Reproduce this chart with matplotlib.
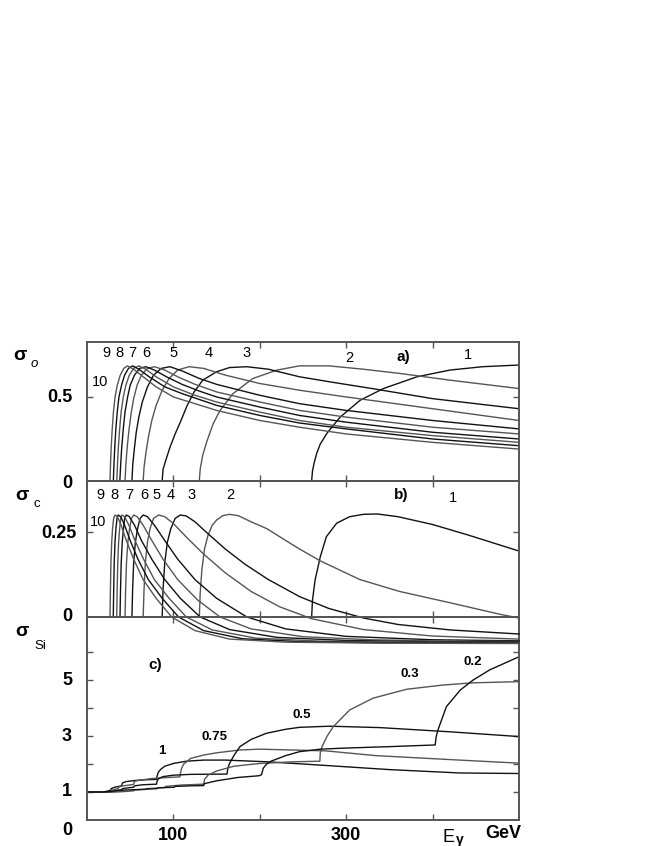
import matplotlib
matplotlib.use("Agg")
import matplotlib.pyplot as plt

plt.rcParams['font.family'] = ['Liberation Sans', 'DejaVu Sans']

# ---- panel a: sigma_o for harmonics 1..10 (E_gamma in GeV) ----
a_x = {
    1: [260, 261, 263, 266, 270, 278, 293, 316, 343, 382, 420, 458, 500],
    2: [130, 131, 134, 139, 146, 154, 169, 192, 220, 246, 280, 320, 362, 420, 500],
    3: [87, 88, 91, 96, 102, 108, 116, 124, 134, 150, 165, 185, 210, 246, 281, 330, 400, 500],
    4: [65, 66, 68, 71, 75, 80, 87, 95, 105, 118, 135, 160, 200, 246, 300, 400, 500],
    5: [52, 53, 55, 57, 60, 64, 70, 77, 86, 96, 110, 130, 150, 200, 246, 300, 400, 500],
    6: [44, 45, 46.5, 48.5, 51, 54, 58, 63, 70, 78, 90, 105, 125, 150, 200, 246, 300, 400, 500],
    7: [38, 39, 40.2, 42, 44, 47, 50, 55, 61, 68, 78, 92, 110, 130, 150, 200, 246, 300, 400, 500],
    8: [34.5, 35.3, 36.3, 37.8, 39.5, 42, 45, 49, 54, 60, 68, 80, 100, 125, 150, 200, 246, 300, 400, 500],
    9: [30.5, 31.2, 32.1, 33.4, 35, 37, 40, 43.5, 48, 53, 60, 72, 90, 110, 150, 200, 246, 300, 400, 500],
    10: [26.6, 27.2, 28, 29.2, 30.6, 32.5, 35, 38.5, 42.5, 47, 54, 65, 80, 100, 150, 200, 246, 300, 400, 500],
}
a_y = {
    1: [0, 0.06, 0.11, 0.167, 0.22, 0.286, 0.38, 0.48, 0.55, 0.62, 0.66, 0.68, 0.69],
    2: [0, 0.07, 0.155, 0.24, 0.34, 0.42, 0.52, 0.61, 0.66, 0.685, 0.685, 0.665, 0.64, 0.6, 0.55],
    3: [0, 0.07, 0.12, 0.2, 0.28, 0.35, 0.45, 0.53, 0.6, 0.65, 0.675, 0.68, 0.665, 0.62, 0.59, 0.55, 0.49, 0.43],
    4: [0, 0.08, 0.16, 0.26, 0.36, 0.45, 0.54, 0.61, 0.66, 0.68, 0.67, 0.63, 0.58, 0.54, 0.5, 0.43, 0.36],
    5: [0, 0.1, 0.2, 0.29, 0.38, 0.47, 0.56, 0.63, 0.67, 0.68, 0.655, 0.61, 0.575, 0.51, 0.46, 0.42, 0.36, 0.31],
    6: [0, 0.1, 0.2, 0.3, 0.4, 0.49, 0.57, 0.63, 0.67, 0.68, 0.66, 0.62, 0.575, 0.53, 0.47, 0.42, 0.38, 0.32, 0.28],
    7: [0, 0.1, 0.2, 0.31, 0.41, 0.5, 0.57, 0.63, 0.67, 0.68, 0.66, 0.62, 0.575, 0.535, 0.5, 0.44, 0.39, 0.35, 0.29, 0.25],
    8: [0, 0.1, 0.2, 0.31, 0.41, 0.5, 0.57, 0.63, 0.67, 0.685, 0.665, 0.62, 0.56, 0.51, 0.47, 0.41, 0.36, 0.32, 0.27, 0.23],
    9: [0, 0.1, 0.2, 0.31, 0.41, 0.5, 0.57, 0.63, 0.67, 0.685, 0.665, 0.62, 0.56, 0.52, 0.45, 0.39, 0.345, 0.31, 0.25, 0.21],
    10: [0, 0.1, 0.2, 0.31, 0.41, 0.5, 0.57, 0.63, 0.67, 0.685, 0.665, 0.62, 0.56, 0.5, 0.42, 0.36, 0.32, 0.28, 0.23, 0.19],
}

# ---- panel b: sigma_c ----
b_x = {
    1: [260, 261, 264, 270, 277, 289, 304, 320, 336, 360, 400, 440, 470, 500],
    2: [130, 131, 133, 136, 140, 145, 150, 157, 165, 175, 190, 208, 230, 246, 270, 316, 362, 420, 478, 500],
    3: [87, 88, 90, 93, 97, 102, 108, 115, 125, 140, 160, 183, 210, 246, 280, 320, 360, 420, 500],
    4: [65, 66, 67.5, 70, 73, 77, 83, 90, 100, 115, 135, 160, 190, 223, 260, 320, 400, 500],
    5: [52, 52.8, 54, 56, 58.5, 61.5, 65, 70, 78, 90, 105, 125, 150, 185, 230, 300, 400, 500],
    6: [44, 44.7, 45.7, 47.3, 49.3, 51.5, 54, 58, 65, 75, 88, 105, 128, 154, 190, 250, 330, 420, 500],
    7: [38.2, 38.8, 39.6, 40.8, 42.2, 43.6, 45.5, 49, 55, 63, 75, 90, 108, 131, 165, 220, 300, 400, 500],
    8: [34.4, 34.9, 35.6, 36.6, 37.8, 39, 40.5, 43.5, 48.5, 55.5, 65.5, 78, 95, 115, 145, 195, 270, 380, 500],
    9: [30.4, 30.9, 31.5, 32.4, 33.5, 34.7, 36, 39, 43.5, 50, 59, 71, 87, 106, 135, 180, 250, 360, 500],
    10: [26.6, 27.1, 27.7, 28.6, 29.6, 30.8, 32.4, 35.2, 39.5, 45.5, 54, 65, 80, 98, 125, 165, 230, 340, 500],
}
b_y = {
    1: [0, 0.05, 0.109, 0.177, 0.236, 0.276, 0.295, 0.302, 0.303, 0.295, 0.272, 0.242, 0.218, 0.194],
    2: [0, 0.07, 0.14, 0.2, 0.24, 0.27, 0.285, 0.298, 0.302, 0.298, 0.28, 0.26, 0.225, 0.2, 0.165, 0.11, 0.075, 0.042, 0.008, -0.003],
    3: [0, 0.08, 0.16, 0.22, 0.26, 0.29, 0.3, 0.297, 0.28, 0.245, 0.2, 0.155, 0.11, 0.06, 0.025, -0.003, -0.022, -0.038, -0.05],
    4: [0, 0.08, 0.16, 0.22, 0.26, 0.29, 0.3, 0.295, 0.275, 0.235, 0.185, 0.13, 0.075, 0.03, -0.005, -0.037, -0.056, -0.065],
    5: [0, 0.08, 0.16, 0.22, 0.26, 0.29, 0.3, 0.295, 0.27, 0.225, 0.17, 0.11, 0.055, 0, -0.035, -0.057, -0.067, -0.07],
    6: [0, 0.08, 0.16, 0.22, 0.26, 0.29, 0.3, 0.295, 0.27, 0.225, 0.17, 0.11, 0.05, 0, -0.035, -0.058, -0.067, -0.071, -0.072],
    7: [0, 0.08, 0.16, 0.22, 0.26, 0.29, 0.3, 0.295, 0.27, 0.225, 0.17, 0.11, 0.055, 0, -0.037, -0.06, -0.069, -0.073, -0.074],
    8: [0, 0.08, 0.16, 0.22, 0.26, 0.29, 0.3, 0.295, 0.27, 0.225, 0.17, 0.11, 0.055, 0, -0.038, -0.062, -0.071, -0.074, -0.076],
    9: [0, 0.08, 0.16, 0.22, 0.26, 0.29, 0.3, 0.295, 0.27, 0.225, 0.17, 0.11, 0.055, 0, -0.04, -0.064, -0.073, -0.076, -0.077],
    10: [0, 0.08, 0.16, 0.22, 0.26, 0.29, 0.3, 0.295, 0.27, 0.225, 0.17, 0.11, 0.055, 0, -0.04, -0.065, -0.074, -0.077, -0.078],
}

# ---- panel c: sigma_Si for several parameter values ----
c_x = {
    "1": [0, 18, 22, 27, 28, 32, 40, 41, 45, 55, 70, 80.5, 81, 82.5, 85, 90, 100, 115, 135, 160, 208, 250, 300, 350, 431, 500],
    "0.75": [0, 18, 24, 27, 28, 33, 36, 37, 42, 54, 55, 60, 75, 95, 107.5, 108, 109.5, 112, 120, 135, 150, 177, 200, 237, 276, 334, 431, 500],
    "0.5": [0, 18, 27, 32, 33, 40, 41, 48, 54, 55, 65, 80.5, 81, 83, 88, 100, 120, 162, 163, 165, 170, 177, 190, 208, 230, 246, 281, 339, 420, 500],
    "0.3": [0, 18, 34, 45, 54, 55, 67.5, 68.5, 80, 90, 91, 110, 135, 136, 140, 150, 170, 200, 240, 269.5, 270, 272, 278, 285, 304, 331, 370, 412, 447, 500],
    "0.2": [0, 18, 44, 68, 81, 82, 101, 102, 120, 135, 136, 150, 175, 199, 202, 204, 208, 213, 230, 246, 270, 300, 350, 403, 404, 406, 416, 432, 447, 466, 500],
}
c_y = {
    "1": [1, 1, 1.02, 1.06, 1.12, 1.17, 1.22, 1.32, 1.37, 1.41, 1.44, 1.45, 1.55, 1.7, 1.8, 1.92, 2.02, 2.1, 2.14, 2.14, 2.08, 2.0, 1.9, 1.8, 1.68, 1.66],
    "0.75": [1, 1, 1.01, 1.03, 1.06, 1.1, 1.12, 1.18, 1.22, 1.27, 1.38, 1.42, 1.48, 1.52, 1.54, 1.65, 1.85, 2.0, 2.2, 2.32, 2.4, 2.5, 2.53, 2.5, 2.47, 2.3, 2.14, 2.03],
    "0.5": [1, 1, 1.0, 1.02, 1.05, 1.08, 1.12, 1.15, 1.17, 1.22, 1.26, 1.28, 1.38, 1.48, 1.55, 1.6, 1.63, 1.64, 1.85, 2.02, 2.3, 2.62, 2.88, 3.1, 3.24, 3.31, 3.35, 3.3, 3.15, 2.98],
    "0.3": [1, 1, 1.0, 1.02, 1.04, 1.07, 1.09, 1.12, 1.14, 1.16, 1.2, 1.25, 1.28, 1.45, 1.6, 1.75, 1.92, 2.02, 2.08, 2.1, 2.4, 2.62, 3.0, 3.33, 3.93, 4.35, 4.67, 4.82, 4.9, 4.94],
    "0.2": [1, 1, 1.07, 1.1, 1.12, 1.15, 1.17, 1.2, 1.22, 1.23, 1.3, 1.4, 1.52, 1.58, 1.62, 1.85, 2.0, 2.1, 2.3, 2.44, 2.53, 2.57, 2.62, 2.68, 2.95, 3.2, 4.05, 4.64, 5.0, 5.36, 5.83],
}

# label positions (data coords)
a_lab = {"9": 23, "8": 38, "7": 53, "6": 69, "5": 100, "4": 141, "3": 185}
b_lab = {"9": 15, "8": 32, "7": 49, "6": 66, "5": 81, "4": 97, "3": 121, "2": 166}
c_lab = {"0.2": (447, 5.65), "0.3": (374, 5.2), "0.5": (249, 3.75), "0.75": (148, 2.95), "1": (87, 2.45)}

SPINE = "#555555"
cols = ["#111111", "#555555"]

fig = plt.figure(figsize=(6.54, 8.46), dpi=100)
L, W = 87 / 654, 432 / 654
ax_a = fig.add_axes([L, 1 - 481 / 846, W, 139 / 846])
ax_b = fig.add_axes([L, 1 - 617 / 846, W, 136 / 846])
ax_c = fig.add_axes([L, 1 - 820 / 846, W, 203 / 846])
ax_c.set_facecolor("none")
ax_b.set_zorder(3); ax_b.patch.set_visible(False)
ax_a.set_zorder(2)


def style(ax, ylim, yt):
    ax.set_xlim(0, 500); ax.set_ylim(*ylim)
    ax.set_xticks([100, 200, 300, 400]); ax.set_yticks(yt)
    ax.tick_params(direction="in", length=4, width=1, color=SPINE,
                   top=True, right=True, labelleft=False, labelbottom=False)
    for s in ax.spines.values():
        s.set_color(SPINE); s.set_linewidth(1.4)


style(ax_a, (0, 0.827), [0.5])
style(ax_b, (0, 0.4), [0.25])
style(ax_c, (0, 7.25), [1, 2, 3, 4, 5, 6])

for i, n in enumerate(range(1, 11)):
    ax_a.plot(a_x[n], a_y[n], color=cols[i % 2], lw=1.0)
    ax_b.plot(b_x[n], b_y[n], color=cols[i % 2], lw=1.0, clip_on=False)
for i, k in enumerate(c_x):
    ax_c.plot(c_x[k], c_y[k], color=cols[i % 2], lw=1.0)

num = dict(fontsize=10.5, ha="center", va="center")
for k, x in a_lab.items():
    ax_a.text(x, 0.76, k, **num)
ax_a.text(304, 0.73, "2", **num)
ax_a.text(441, 0.75, "1", **num)
ax_a.text(15, 0.59, "10", **num)
ax_a.text(366, 0.735, "a)", fontsize=11, fontweight="bold", ha="center", va="center")

for k, x in b_lab.items():
    ax_b.text(x, 0.36, k, **num)
ax_b.text(424, 0.35, "1", **num)
ax_b.text(13, 0.28, "10", **num)
ax_b.text(364, 0.36, "b)", fontsize=11, fontweight="bold", ha="center", va="center")

for k, (x, y) in c_lab.items():
    ax_c.text(x, y, k, fontsize=9.5, fontweight="bold", ha="center", va="center")
ax_c.text(79, 5.54, "c)", fontsize=11, fontweight="bold", ha="center", va="center")

# axis numbers
tk = dict(fontsize=13, fontweight="bold", ha="right", va="center")
def ylab(y_px, s, x_px=72):
    fig.text(x_px / 654, 1 - y_px / 846, s, **tk)

ylab(397, "0.5"); ylab(483, "0"); ylab(533, "0.25", 77); ylab(616, "0")
ylab(680, "5"); ylab(736, "3"); ylab(791, "1"); ylab(830, "0")
for x, s in [(100, "100"), (300, "300")]:
    fig.text((87 + 0.864 * x) / 654, 1 - 835 / 846, s, fontsize=13,
             fontweight="bold", ha="center", va="center")
fig.text(448 / 654, 1 - 837 / 846, "E", fontsize=13, ha="center", va="center")
fig.text(460 / 654, 1 - 840 / 846, "γ", fontsize=10, fontweight="bold", ha="center", va="center")
fig.text(503 / 654, 1 - 833 / 846, "GeV", fontsize=13, fontweight="bold", ha="center", va="center")

# sigma labels
def sig(x, y, sub, subx, suby, italic=False):
    fig.text(x / 654, 1 - y / 846, "σ", fontsize=14, fontweight="bold", ha="center", va="center")
    fig.text(subx / 654, 1 - suby / 846, sub, fontsize=9.5, ha="center", va="center",
             style="italic" if italic else "normal")

sig(20, 356, "o", 34, 364, italic=True)
sig(22, 495, "c", 37, 504)
sig(22, 632, "Si", 40, 646)

fig.savefig("out.png", dpi=100)
